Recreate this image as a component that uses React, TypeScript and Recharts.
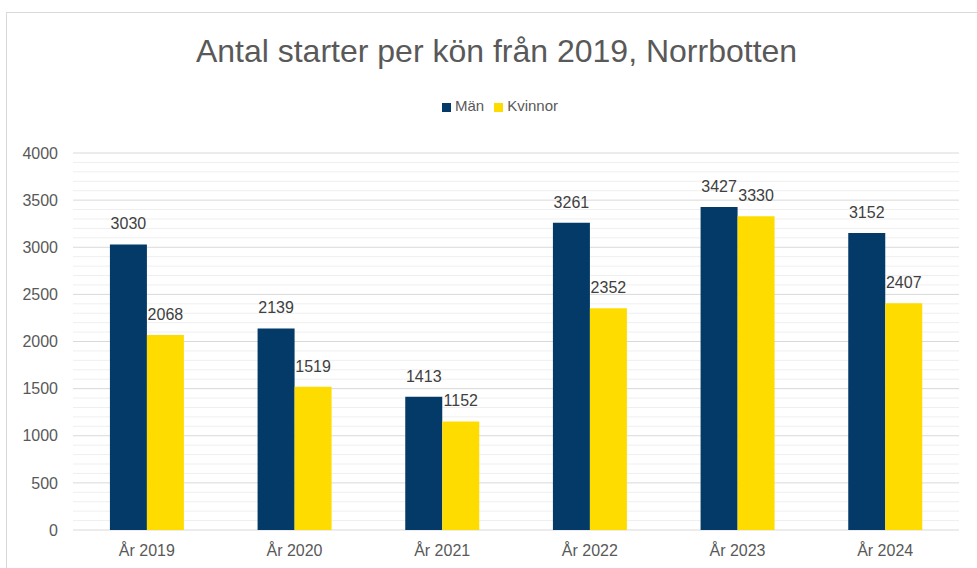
import { Bar, BarChart, CartesianGrid, LabelList, Legend, XAxis, YAxis } from "recharts";

const years = ["År 2019", "År 2020", "År 2021", "År 2022", "År 2023", "År 2024"];
const man = [3030, 2139, 1413, 3261, 3427, 3152];
const kvinnor = [2068, 1519, 1152, 2352, 3330, 2407];
// alla linjer var 100:e, etikett bara var 500:e
const yTicks = [
  0, 100, 200, 300, 400, 500, 600, 700, 800, 900, 1000, 1100, 1200, 1300, 1400, 1500, 1600, 1700,
  1800, 1900, 2000, 2100, 2200, 2300, 2400, 2500, 2600, 2700, 2800, 2900, 3000, 3100, 3200, 3300,
  3400, 3500, 3600, 3700, 3800, 3900, 4000,
];

const data = years.map((year, i) => ({ year, Män: man[i], Kvinnor: kvinnor[i] }));

const FONT = "'Liberation Sans', Arial, sans-serif";
const MAN_COLOR = "#033a67";
const KVINNOR_COLOR = "#ffdc00";

const isMajor = (v: number) => v % 500 === 0;

function GridLine(props: any) {
  const v = yTicks[props.index];
  return (
    <line
      x1={props.x1}
      x2={props.x2}
      y1={props.y1}
      y2={props.y2}
      stroke={isMajor(v) ? "#d9d9d9" : "#efefef"}
      strokeWidth={1}
    />
  );
}

function YTick({ x, y, payload }: any) {
  if (!isMajor(payload.value)) return <g />;
  return (
    <text x={x} y={y} dy="0.355em" textAnchor="end" fill="#595959" fontSize={16} fontFamily={FONT}>
      {payload.value}
    </text>
  );
}

export default function App() {
  return (
    <div
      style={{
        position: "fixed",
        left: 0,
        top: 0,
        width: 977,
        height: 568,
        overflow: "hidden",
        background: "#fff",
        fontFamily: FONT,
      }}
    >
      <div
        style={{
          position: "absolute",
          left: 6,
          top: 12,
          width: 1000,
          height: 600,
          border: "1px solid #d9d9d9",
        }}
      />
      <div
        style={{
          position: "absolute",
          left: 8,
          width: 977,
          top: 33,
          textAlign: "center",
          fontSize: 32,
          lineHeight: "36px",
          color: "#595959",
          whiteSpace: "nowrap",
        }}
      >
        Antal starter per kön från 2019, Norrbotten
      </div>
      <div style={{ position: "absolute", left: 0, top: 0 }}>
        <BarChart
          width={977}
          height={568}
          data={data}
          margin={{ top: 136, right: 18, left: 13, bottom: 8 }}
          barCategoryGap="25%"
          barGap={0}
        >
          <CartesianGrid vertical={false} horizontal={(p: any) => <GridLine key={p.key} {...p} />} />
          <XAxis
            dataKey="year"
            axisLine={false}
            tickLine={false}
            tickMargin={9}
            tick={{ fill: "#595959", fontSize: 16, fontFamily: FONT }}
          />
          <YAxis
            domain={[0, 4000]}
            ticks={yTicks}
            interval={0}
            width={60}
            axisLine={false}
            tickLine={false}
            tickMargin={9}
            tick={<YTick />}
          />
          <Legend
            verticalAlign="top"
            iconType="square"
            iconSize={9}
            itemSorter={null}
            wrapperStyle={{ top: 97, left: 32, fontSize: 15, fontFamily: FONT }}
            formatter={(value) => <span style={{ color: "#595959" }}>{value}</span>}
          />
          <Bar dataKey="Män" fill={MAN_COLOR} isAnimationActive={false}>
            <LabelList dataKey="Män" position="top" offset={15} fill="#404040" fontSize={16} fontFamily={FONT} />
          </Bar>
          <Bar dataKey="Kvinnor" fill={KVINNOR_COLOR} isAnimationActive={false}>
            <LabelList dataKey="Kvinnor" position="top" offset={15} fill="#404040" fontSize={16} fontFamily={FONT} />
          </Bar>
        </BarChart>
      </div>
    </div>
  );
}
